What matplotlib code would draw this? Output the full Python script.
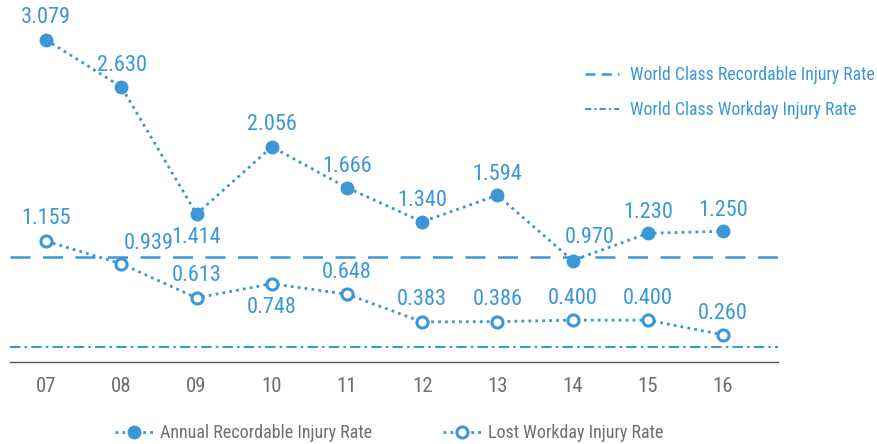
import matplotlib
matplotlib.use("Agg")
from matplotlib import pyplot as plt
from matplotlib.lines import Line2D

plt.rcParams['font.family'] = ['Roboto Condensed', 'Roboto', 'DejaVu Sans']

years = ["07", "08", "09", "10", "11", "12", "13", "14", "15", "16"]
recordable = [3.079, 2.630, 1.414, 2.056, 1.666, 1.340, 1.594, 0.970, 1.230, 1.250]
workday = [1.155, 0.939, 0.613, 0.748, 0.648, 0.383, 0.386, 0.400, 0.400, 0.260]
world_recordable = 1.0
world_workday = 0.14

# label offsets in pixels (dx, dy)
rec_offsets = [(0, 22), (1, 21), (0, -23), (0, 22), (0, 21), (0, 21), (0, 21), (17, 23), (0, 21), (0, 21)]
wd_offsets = [(0, 23), (27, 20), (0, 22), (0, -24), (0, 22), (0, 22), (0, 22), (0, 22), (0, 22), (0, 21)]

blue = "#3b97d6"
gray = "#6f6f6f"

fig = plt.figure(figsize=(8.78, 4.44), dpi=100)
ax = fig.add_axes([10 / 878, 82 / 444, 768 / 878, 362 / 444])

x = list(range(len(years)))
ax.axhline(world_recordable, color=blue, lw=1.8, dashes=(8, 5))
ax.axhline(world_workday, color=blue, lw=1.5, dashes=(5, 2, 1.2, 2))

ax.plot(x, recordable, color=blue, lw=2, ls=(0, (1, 1.5)), marker="o", ms=9,
        markerfacecolor=blue, markeredgecolor=blue, zorder=3)
ax.plot(x, workday, color=blue, lw=2, ls=(0, (1, 1.5)), marker="o", ms=8,
        markerfacecolor="white", markeredgecolor=blue, markeredgewidth=2.2, zorder=3)

for xi, v, (dx, dy) in zip(x, recordable, rec_offsets):
    ax.annotate(f"{v:.3f}", (xi, v), xytext=(dx, dy), textcoords="offset pixels",
                ha="center", va="center", fontsize=16, color=blue)
for xi, v, (dx, dy) in zip(x, workday, wd_offsets):
    ax.annotate(f"{v:.3f}", (xi, v), xytext=(dx, dy), textcoords="offset pixels",
                ha="center", va="center", fontsize=16, color=blue)

ax.set_xlim(-0.48, 9.73)
ax.set_ylim(0, 3.46)
for s in ["top", "right", "left"]:
    ax.spines[s].set_visible(False)
ax.spines["bottom"].set_color("#555555")
ax.spines["bottom"].set_linewidth(1)
ax.set_yticks([])
ax.set_xticks(x)
ax.set_xticklabels(years, fontsize=15, color=gray)
ax.tick_params(axis="x", length=0, pad=11)

top_handles = [
    Line2D([], [], color=blue, lw=1.8, dashes=(4, 2.5)),
    Line2D([], [], color=blue, lw=1.5, dashes=(3, 1.5, 1, 1.5)),
]
leg1 = fig.legend(top_handles, ["World Class Recordable Injury Rate", "World Class Workday Injury Rate"],
                  loc="upper left", bbox_to_anchor=(585 / 878, 1 - 66 / 444), frameon=False,
                  fontsize=12.8, handlelength=1.9, handletextpad=0.65, labelspacing=0.97,
                  borderpad=0, borderaxespad=0)
for t in leg1.get_texts():
    t.set_color(blue)

bottom_handles = [
    Line2D([], [], color=blue, lw=2, ls=(0, (1, 1.5)), marker="o", ms=9,
           markerfacecolor=blue, markeredgecolor=blue),
    Line2D([], [], color=blue, lw=2, ls=(0, (1, 1.5)), marker="o", ms=8,
           markerfacecolor="white", markeredgecolor=blue, markeredgewidth=2.2),
]
leg2 = fig.legend(bottom_handles, ["Annual Recordable Injury Rate", "Lost Workday Injury Rate"],
                  loc="lower left", bbox_to_anchor=(115 / 878, 2 / 444), ncol=2, frameon=False,
                  fontsize=13, handlelength=2.1, handletextpad=0.4, columnspacing=3.9,
                  borderpad=0, borderaxespad=0)
for t in leg2.get_texts():
    t.set_color(gray)

fig.savefig("out.png", dpi=100)
